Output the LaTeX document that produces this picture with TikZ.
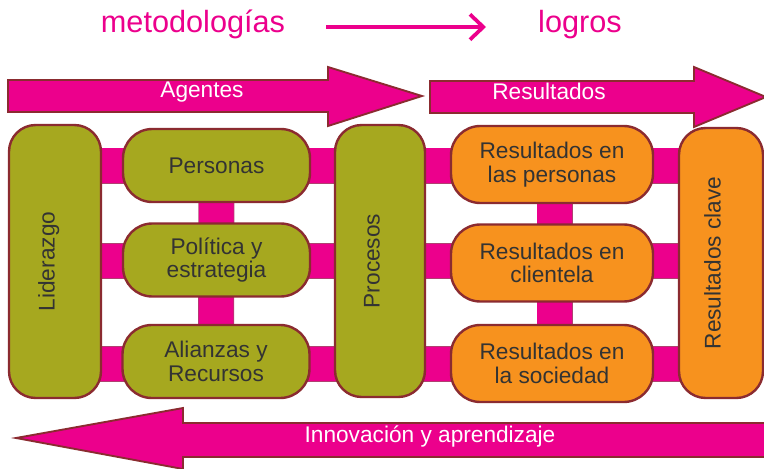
\documentclass[tikz,border=0pt]{standalone}
\usepackage{fontspec}
\setmainfont{Liberation Sans}
\usetikzlibrary{arrows.meta,backgrounds}
\definecolor{mag}{HTML}{EC008C}
\definecolor{maroon}{HTML}{8B2B30}
\definecolor{olivec}{HTML}{A6A81F}
\definecolor{orangec}{HTML}{F7921E}
\definecolor{txt}{HTML}{333333}
\definecolor{baredge}{HTML}{B04070}
\begin{document}
\begin{tikzpicture}[x=0.75pt,y=-0.75pt,
  box/.style={draw=maroon, line width=1.8pt, rounded corners=22pt, inner sep=0pt,
    align=center, text=txt, font=\fontsize{17}{17.5}\selectfont},
  oliv/.style={box, fill=olivec},
  oran/.style={box, fill=orangec},
  leftsmall/.style={minimum width=140.25pt, minimum height=54.75pt},
  rightsmall/.style={minimum width=151.5pt, minimum height=57.75pt},
  tallbox/.style={rounded corners=20pt, rotate=90, text height=12.5pt, text depth=13pt},
  bar/.style={line width=0.5pt, draw=baredge, double=mag, double distance=26pt},
  bigarrow/.style={fill=mag, draw=maroon, line width=1.4pt, line join=miter},
  arrowlabel/.style={text=white, font=\fontsize{17}{17}\selectfont, anchor=base, inner sep=0pt},
  toplabel/.style={text=mag, font=\fontsize{23}{23}\selectfont, anchor=base, inner sep=0pt},
  toparrow/.style={draw=mag, line width=3.2pt, -{Straight Barb[length=10pt,width=19pt,line width=2.8pt]}},
]
\useasboundingbox (0,0) rectangle (764,468);
\clip (0,0) rectangle (764,468);

% top labels
\node[toplabel] (met) at (193,32) {metodologías};
\node[toplabel] (log) at (580,32) {logros};
\coordinate (ta) at (326,27);
\coordinate (tb) at (486,27);
\draw[toparrow] (ta) -- (tb);

% big arrows
\draw[bigarrow] (8,80) -- (328,80) -- (328,67) -- (422,96) -- (328,126) -- (328,112) -- (8,112) -- cycle;
\node[arrowlabel] (ag) at (202,97) {Agentes};
\draw[bigarrow] (430,81) -- (694,81) -- (694,67) -- (766,97) -- (694,127) -- (694,113) -- (430,113) -- cycle;
\node[arrowlabel] (res) at (549,99) {Resultados};
\draw[bigarrow] (16,438) -- (183,408) -- (183,423) -- (775,423) -- (775,457) -- (183,457) -- (183,469) -- cycle;
\node[arrowlabel] (inn) at (430,442) {Innovación y aprendizaje};

% boxes
\node[oliv, tallbox, minimum height=69pt, minimum width=204.75pt] (lid) at (55,261.5) {Liderazgo};
\node[oliv, leftsmall] (per) at (216.5,165.5) {Personas};
\node[oliv, leftsmall] (pol) at (216.5,260) {Política y\\estrategia};
\node[oliv, leftsmall] (ali) at (216,361.5) {Alianzas y\\Recursos};
\node[oliv, tallbox, minimum height=67.5pt, minimum width=204pt] (pro) at (380,261) {Procesos};
\node[oran, rightsmall] (rpe) at (552,164.5) {Resultados en\\las personas};
\node[oran, rightsmall] (rcl) at (552,263) {Resultados en\\clientela};
\node[oran, rightsmall] (rso) at (552,363.5) {Resultados en\\la sociedad};
\node[oran, tallbox, minimum height=63pt, minimum width=202.5pt] (cla) at (721,263) {Resultados clave};

% bars behind
\begin{pgfonlayer}{background}
\draw[bar] (lid.center |- per.center) -- (cla.center |- per.center);
\draw[bar] (lid.center |- 0,261) -- (cla.center |- 0,261);
\draw[bar] (lid.center |- 0,364) -- (cla.center |- 0,364);
\draw[bar] (per.center) -- (ali.center);
\draw[bar] ([xshift=1.9pt]rpe.center) -- ([xshift=1.9pt]rso.center);
\end{pgfonlayer}
\end{tikzpicture}
\end{document}
